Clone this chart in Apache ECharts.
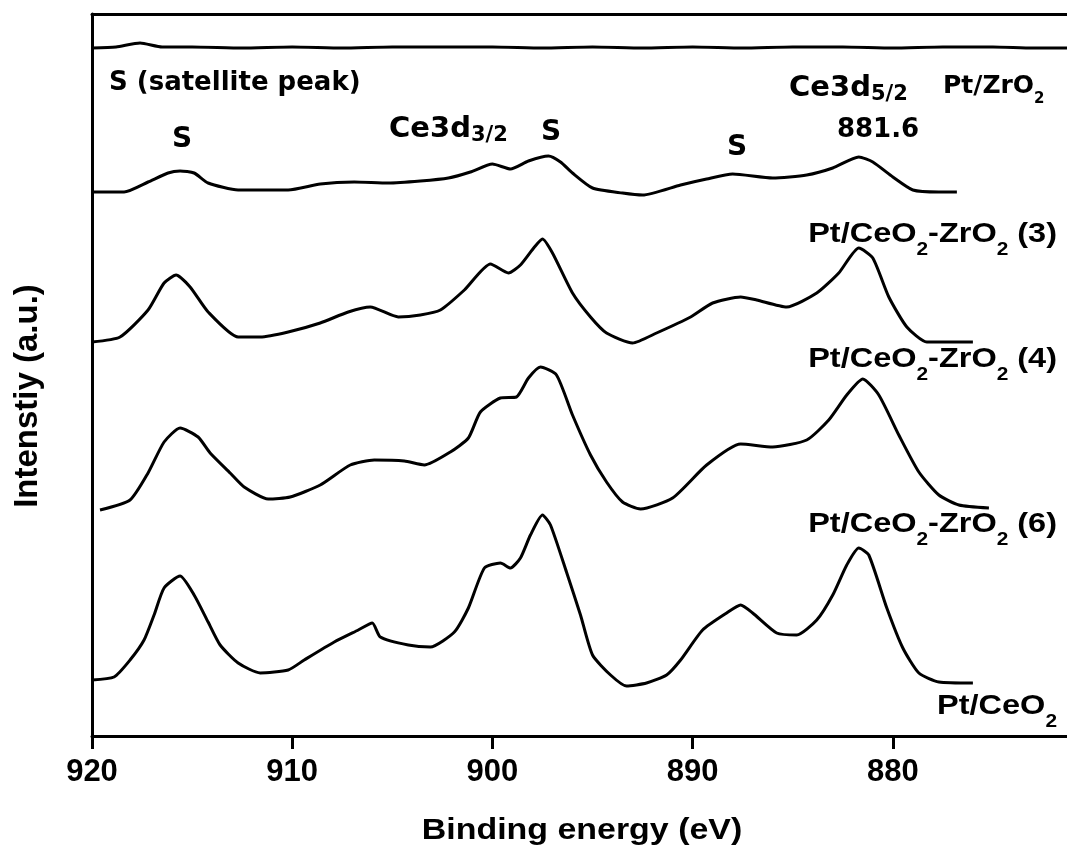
<!DOCTYPE html>
<html>
<head>
<meta charset="utf-8">
<script src="https://cdn.jsdelivr.net/npm/echarts@6/dist/echarts.min.js"></script>
<style>html,body{margin:0;padding:0;background:#fff;}#chart{width:1067px;height:852px;}</style>
</head>
<body>
<div id="chart"></div>
<script>
// ---- data (binding energy in eV, intensity in arbitrary units, stacked offsets as drawn) ----
const xTicks = [920, 910, 900, 890, 880];

const energyZr = [920.0, 918.8, 917.6, 916.5, 915.0, 912.5, 910.0, 907.5, 905.0, 902.5, 900.0, 897.5, 895.0, 892.5, 890.0, 887.5, 885.0, 882.5, 880.0, 877.5, 875.0, 873.0, 871.3];
const intensityZr = [688, 689, 693, 689, 689, 688, 689, 688, 689, 689, 689, 688, 689, 688, 689, 688, 689, 689, 688, 689, 689, 688, 688];

const energy3 = [920.0, 918.4, 917.2, 916.2, 915.6, 914.9, 914.2, 912.7, 910.2, 908.6, 906.9, 905.2, 903.6, 902.2, 901.1, 900.0, 899.1, 898.2, 897.2, 896.6, 896.0, 895.0, 893.5, 892.5, 890.6, 889.3, 888.0, 886.0, 884.3, 883.0, 881.7, 881.0, 880.0, 879.0, 877.7, 876.8];
const intensity3 = [544, 544, 554, 563, 565, 563, 553, 546, 546, 552, 554, 553, 555, 558, 564, 572, 567, 575, 580, 574, 563, 548, 543, 541, 551, 557, 562, 558, 561, 568, 579, 574, 559, 546, 544, 544];

const energy4 = [920.0, 918.6, 917.2, 916.4, 915.8, 915.1, 914.2, 912.7, 911.6, 910.2, 908.6, 907.2, 906.1, 904.7, 903.6, 902.6, 901.4, 900.1, 899.2, 898.6, 897.9, 897.5, 897.0, 896.0, 895.1, 894.3, 893.0, 891.8, 890.1, 889.0, 887.6, 886.8, 885.3, 883.8, 882.7, 881.7, 881.0, 880.2, 879.3, 878.3, 876.0];
const intensity4 = [394, 399, 426, 453, 461, 449, 424, 399, 399, 404, 413, 424, 429, 419, 421, 426, 446, 472, 463, 471, 489, 497, 483, 443, 419, 403, 393, 403, 419, 433, 439, 436, 429, 443, 463, 488, 478, 439, 409, 394, 394];

const energy6 = [919.6, 918.1, 917.2, 916.4, 915.6, 914.7, 914.1, 913.1, 912.4, 911.2, 910.1, 908.6, 907.1, 905.9, 904.4, 903.4, 902.1, 901.2, 900.6, 899.6, 898.8, 898.2, 897.6, 896.8, 896.0, 895.1, 894.3, 893.5, 892.6, 891.0, 889.3, 887.6, 886.0, 884.3, 883.2, 882.3, 881.5, 880.7, 879.7, 878.7, 877.7, 876.7, 875.2];
const intensity6 = [226, 236, 263, 294, 308, 299, 283, 263, 249, 237, 239, 251, 271, 276, 275, 271, 284, 298, 324, 338, 339, 358, 369, 361, 321, 281, 254, 234, 227, 238, 271, 292, 289, 296, 316, 341, 357, 341, 301, 264, 241, 231, 228];

const energyCe = [920.0, 918.9, 918.1, 917.4, 916.9, 916.4, 915.6, 914.9, 914.2, 913.6, 912.7, 911.6, 910.2, 909.4, 907.9, 906.7, 906.0, 905.6, 904.2, 903.1, 901.9, 901.2, 900.4, 899.6, 899.1, 898.6, 898.1, 897.5, 897.1, 896.3, 895.6, 895.0, 894.1, 893.3, 892.3, 891.3, 890.6, 889.5, 888.3, 887.6, 887.0, 885.8, 884.8, 883.8, 883.0, 882.3, 881.7, 881.2, 880.3, 879.5, 878.7, 877.7, 876.0];
const intensityCe = [56, 59, 76, 96, 121, 148, 160, 141, 114, 91, 73, 63, 66, 76, 94, 106, 113, 99, 91, 89, 104, 128, 168, 173, 168, 178, 201, 221, 211, 164, 121, 81, 61, 50, 53, 61, 76, 106, 123, 131, 123, 103, 101, 116, 141, 171, 188, 181, 128, 88, 63, 54, 53];

const seriesNames = ['Pt/ZrO2', 'Pt/CeO2-ZrO2 (3)', 'Pt/CeO2-ZrO2 (4)', 'Pt/CeO2-ZrO2 (6)', 'Pt/CeO2'];

// ---- build ----
function zip(xs, ys) { return xs.map((x, i) => [x, ys[i]]); }
const seriesData = [
  zip(energyZr, intensityZr),
  zip(energy3, intensity3),
  zip(energy4, intensity4),
  zip(energy6, intensity6),
  zip(energyCe, intensityCe)
];

const FA = '"Liberation Sans", Arial, sans-serif';
const FK = '"DejaVu Sans", "Noto Sans", sans-serif';

function richLabel(text, x, y, align, mainSize, subSize, pad, family, sx) {
  const lh = Math.max(mainSize + 2, pad + subSize);
  return {
    type: 'text',
    x: x, y: y, scaleX: sx || 1,
    style: {
      text: text,
      align: align, verticalAlign: 'middle',
      textAlign: align, textVerticalAlign: 'middle',
      fill: '#000',
      rich: {
        m: { fontSize: mainSize, fontWeight: 'bold', fontFamily: family, lineHeight: lh, verticalAlign: 'middle', color: '#000' },
        s: { fontSize: subSize, fontWeight: 'bold', fontFamily: family, lineHeight: subSize, padding: [pad, 0, 0, 0], verticalAlign: 'top', color: '#000' }
      }
    }
  };
}
function plain(text, x, y, align, font, sx, rot) {
  return {
    type: 'text', x: x, y: y, scaleX: sx || 1, rotation: rot || 0,
    style: { text: text, align: align, verticalAlign: 'middle', textAlign: align, textVerticalAlign: 'middle', font: font, fill: '#000' }
  };
}

const chart = echarts.init(document.getElementById('chart'), null, { renderer: 'canvas' });
chart.setOption({
  animation: false,
  backgroundColor: '#fff',
  grid: { left: 92, right: 0, top: 14, bottom: 116, containLabel: false },
  xAxis: [{
    type: 'value', inverse: true, min: 871.3, max: 920,
    axisLine: { show: true, lineStyle: { color: '#000', width: 3 } },
    axisTick: { show: true, inside: false, length: 13, customValues: xTicks, lineStyle: { color: '#000', width: 3 } },
    axisLabel: { show: true, customValues: xTicks, margin: 21, fontSize: 31, fontWeight: 'bold', fontFamily: FA, color: '#000' },
    splitLine: { show: false }
  }, {
    type: 'value', inverse: true, min: 871.3, max: 920, position: 'top',
    axisLine: { show: true, lineStyle: { color: '#000', width: 3 } },
    axisTick: { show: false }, axisLabel: { show: false }, splitLine: { show: false }
  }],
  yAxis: {
    type: 'value', min: 0, max: 722,
    axisLine: { show: true, lineStyle: { color: '#000', width: 3 } },
    axisTick: { show: false }, axisLabel: { show: false }, splitLine: { show: false }
  },
  series: seriesData.map((d, i) => ({
    name: seriesNames[i], type: 'line', data: d, showSymbol: false, symbol: 'none',
    smooth: 0.2,
    lineStyle: { color: '#000', width: 3, join: 'round' }, clip: true
  })),
  graphic: [
    plain('Binding energy (eV)', 582, 831, 'center', 'bold 29px ' + FA, 1.17, 0),
    plain('Intenstiy (a.u.)', 28, 396, 'center', 'bold 33px ' + FA, 1, Math.PI / 2),
    plain('S (satellite peak)', 109, 83, 'left', 'bold 26px ' + FK),
    plain('S', 182, 140, 'center', 'bold 28px ' + FK),
    plain('S', 551, 133, 'center', 'bold 28px ' + FK),
    plain('S', 737, 148, 'center', 'bold 28px ' + FK),
    plain('881.6', 878, 130, 'center', 'bold 26px ' + FK),
    richLabel('{m|Ce3d}{s|3/2}', 389, 129, 'left', 29, 21, 14, FK),
    richLabel('{m|Ce3d}{s|5/2}', 789, 88, 'left', 29, 21, 14, FK),
    richLabel('{m|Pt/ZrO}{s|2}', 943, 86, 'left', 25, 15, 27, FK),
    richLabel('{m|Pt/CeO}{s|2}{m|-ZrO}{s|2}{m| (3)}', 1057, 234, 'right', 28, 18, 33, FA, 1.16),
    richLabel('{m|Pt/CeO}{s|2}{m|-ZrO}{s|2}{m| (4)}', 1057, 359, 'right', 28, 18, 33, FA, 1.16),
    richLabel('{m|Pt/CeO}{s|2}{m|-ZrO}{s|2}{m| (6)}', 1057, 524, 'right', 28, 18, 33, FA, 1.16),
    richLabel('{m|Pt/CeO}{s|2}', 1057, 706, 'right', 28, 18, 33, FA, 1.16)
  ]
});
</script>
</body>
</html>
